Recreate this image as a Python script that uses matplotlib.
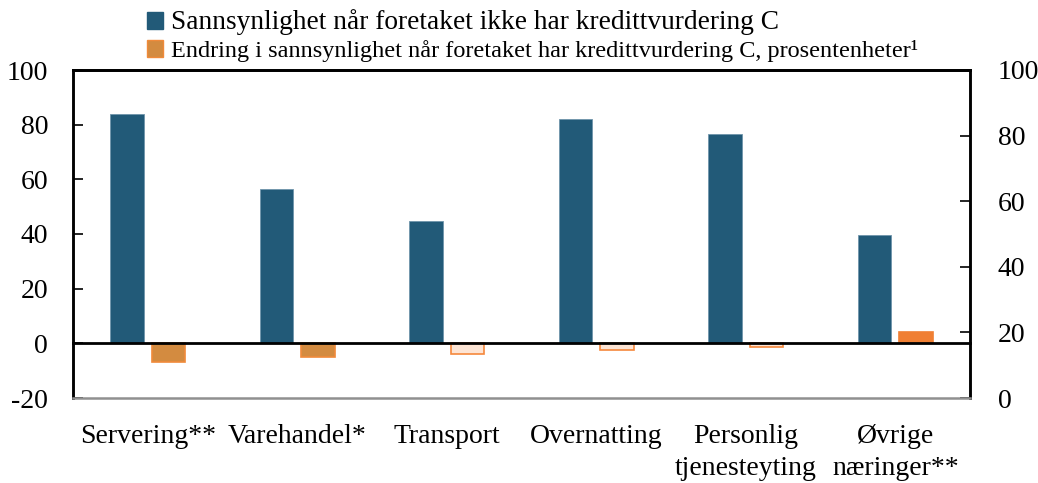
import matplotlib
matplotlib.use("Agg")
import matplotlib.pyplot as plt
import matplotlib.transforms as mtransforms
from matplotlib.patches import Patch
import numpy as np

categories = ["Servering**", "Varehandel*", "Transport", "Overnatting",
              "Personlig\ntjenesteyting", "Øvrige\nnæringer**"]
prob_no_c = [84.0, 56.3, 44.6, 81.9, 76.6, 39.6]
change_c = [-6.7, -5.1, -3.8, -2.4, -1.5, 4.0]

label_1 = "Sannsynlighet når foretaket ikke har kredittvurdering C"
label_2 = "Endring i sannsynlighet når foretaket har kredittvurdering C, prosentenheter¹"

# styles
BLUE = "#225a78"
face_orange = ["#d38b40", "#d38b40", "#fde4d4", "#fde4d4", "#fde4d4", "#f07f33"]
edge_orange = ["#f08a3a", "#f08a3a", "#f5883c", "#f5883c", "#f5883c", "#f07f33"]

plt.rcParams["font.family"] = ["Liberation Serif", "DejaVu Serif"]
plt.rcParams["axes.unicode_minus"] = False

fig = plt.figure(figsize=(10.38, 4.83), dpi=100)
ax = fig.add_axes([73/1038, 1-398/483, (970-73)/1038, (398-70)/483])
ax2 = ax.twinx()

x = np.arange(len(categories))
w = 0.225
off = 0.14
ax.bar(x - off, prob_no_c, width=w, color=BLUE, edgecolor="#6f95ab", linewidth=0.6, zorder=3)
ax.bar(x + off, change_c, width=w, color=face_orange, edgecolor=edge_orange, linewidth=1.2, zorder=3)

ax.set_xlim(-0.5, len(categories) - 0.5)
ax.set_ylim(-20, 100)
ax.set_yticks([-20, 0, 20, 40, 60, 80, 100])
ax2.set_ylim(0, 100)
ax2.set_yticks([0, 20, 40, 60, 80, 100])

# x axis at zero with boundary ticks pointing up
ax.spines["bottom"].set_position(("data", 0))
ax.spines["bottom"].set_linewidth(2)
ax.spines["bottom"].set_zorder(4)
ax.set_xticks(np.arange(0.5, len(categories) - 0.5, 1.0))
ax.tick_params(axis="x", direction="in", length=8, width=1.5, labelbottom=False)

for a in (ax, ax2):
    a.spines["top"].set_linewidth(2)
    a.spines["left"].set_linewidth(1.8)
    a.spines["right"].set_linewidth(1.8)
ax2.spines["bottom"].set_color("#909090")
ax2.spines["bottom"].set_linewidth(1.8)
ax2.set_xticks([])

ax.tick_params(axis="y", direction="in", length=7, width=1.2, labelsize=20, pad=18)
ax2.tick_params(axis="y", direction="in", length=7, width=1.2, labelsize=20, pad=20)

trans = mtransforms.blended_transform_factory(ax.transData, ax.transAxes)
for xi, lab in zip(x, categories):
    ax.text(xi, -0.08, lab, transform=trans, ha="center", va="top",
            fontsize=20, linespacing=1.35)

handles = [Patch(facecolor=BLUE, edgecolor=BLUE),
           Patch(facecolor="#d38b40", edgecolor="#f08a3a")]
leg = fig.legend(handles, [label_1, label_2], loc="upper left",
                 bbox_to_anchor=(132/1038, 1.012), frameon=False,
                 handlelength=0.65, handleheight=0.65, handletextpad=0.3,
                 labelspacing=0.2, fontsize=18, borderaxespad=0.2)
leg.get_texts()[0].set_fontsize(19.7)
leg.get_texts()[1].set_fontsize(17.5)

fig.savefig("out.png", dpi=100)
